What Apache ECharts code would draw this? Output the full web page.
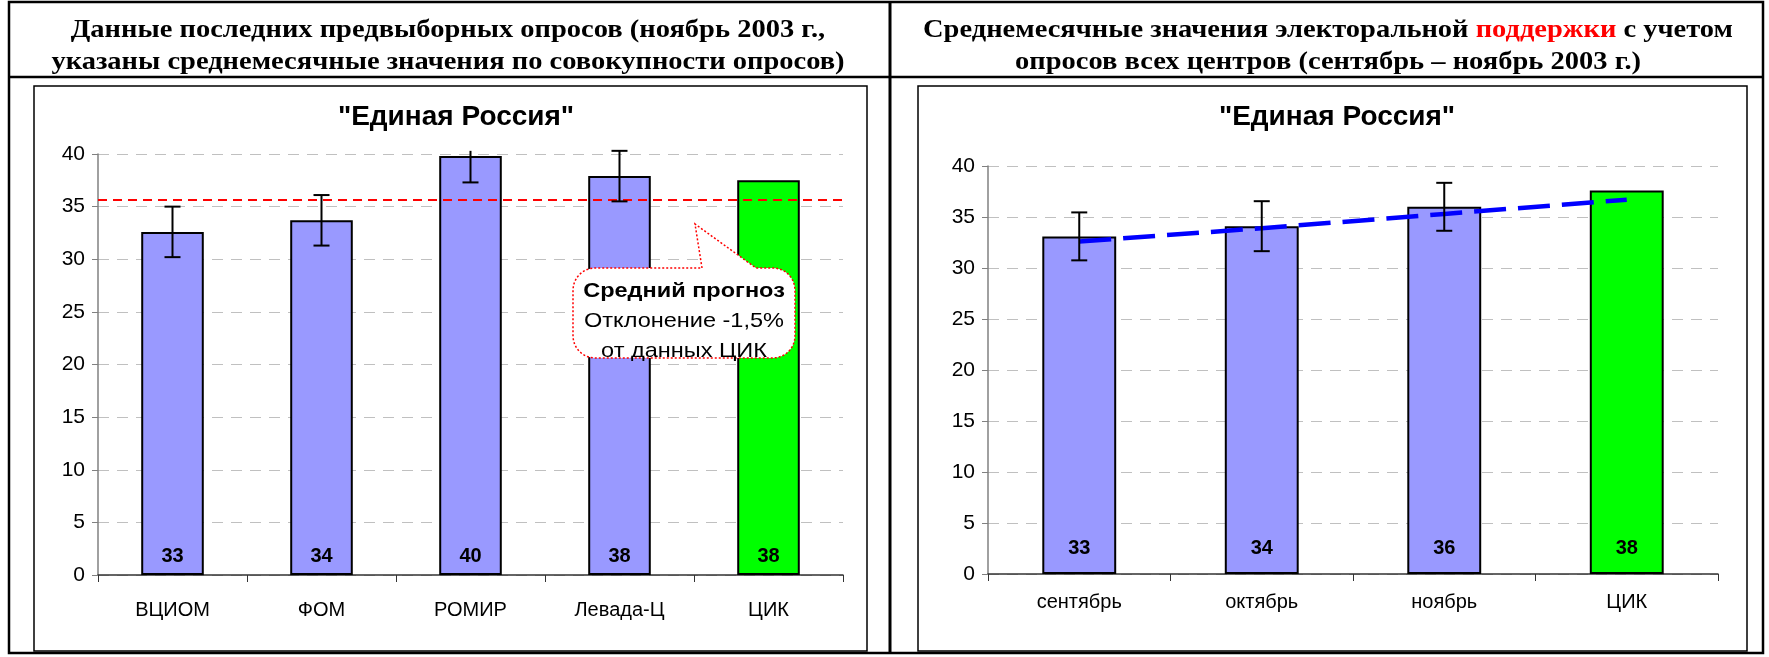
<!DOCTYPE html>
<html><head><meta charset="utf-8">
<script src="https://cdn.jsdelivr.net/npm/echarts@6/dist/echarts.min.js"></script>
<style>html,body{margin:0;padding:0;background:#fff}#c{width:1769px;height:657px}</style>
</head><body><div id="c"></div>
<script>
// ---- data ----
const leftCategories = ['ВЦИОМ', 'ФОМ', 'РОМИР', 'Левада-Ц', 'ЦИК'];
const leftValues = [32.6, 33.7, 39.8, 37.9, 37.5];
const leftErrors = [2.4, 2.4, 2.5, 2.4, null];
const leftAverage = 35.7;
const rightCategories = ['сентябрь', 'октябрь', 'ноябрь', 'ЦИК'];
const rightValues = [33.1, 34.1, 36.0, 37.6];
const rightErrors = [2.35, 2.45, 2.35, null];
const rightTrend = [32.6, 33.9, 35.3, 36.7];
const yMin = 0, yMax = 40, yStep = 5;
const chartTitle = '"Единая Россия"';
const leftHeader = ['Данные последних предвыборных опросов (ноябрь 2003 г.,', 'указаны среднемесячные значения по совокупности опросов)'];
const rightHeader = ['Среднемесячные значения электоральной {r|поддержки} с учетом', 'опросов всех центров (сентябрь – ноябрь 2003 г.)'];
const calloutLines = ['{b|Средний прогноз}', 'Отклонение -1,5%', 'от данных ЦИК'];

// ---- style ----
const SANS = '"Liberation Sans", Arial, sans-serif';
const SERIF = '"Liberation Serif", "Times New Roman", serif';
const BAR = '#9999FF', CEC = '#00FF00';

const chart = echarts.init(document.getElementById('c'));

function barData(values, cats) {
  return values.map((v, i) => ({
    value: v,
    itemStyle: { color: cats[i] === 'ЦИК' ? CEC : BAR }
  }));
}
function errorData(values, errors) {
  const out = [];
  values.forEach((v, i) => { if (errors[i] != null) out.push([i, v - errors[i], v + errors[i]]); });
  return out;
}
function errorSeries(idx, values, errors, clipMax) {
  return {
    type: 'custom', xAxisIndex: idx, yAxisIndex: idx, z: 6, clip: false,
    data: errorData(values, errors),
    renderItem: function (params, api) {
      const x = api.value(0), lo = api.value(1), hi = api.value(2);
      const hiC = Math.min(hi, clipMax);
      const pLo = api.coord([x, lo]);
      const pHi = api.coord([x, hiC]);
      const w = 8;
      const st = { stroke: '#000', lineWidth: 2 };
      const ch = [
        { type: 'line', shape: { x1: pLo[0], y1: pLo[1], x2: pHi[0], y2: pHi[1] }, style: st },
        { type: 'line', shape: { x1: pLo[0] - w, y1: pLo[1], x2: pLo[0] + w, y2: pLo[1] }, style: st }
      ];
      if (hi <= clipMax) ch.push({ type: 'line', shape: { x1: pHi[0] - w, y1: pHi[1], x2: pHi[0] + w, y2: pHi[1] }, style: st });
      return { type: 'group', children: ch };
    }
  };
}
function yAxis(idx) {
  return {
    type: 'value', gridIndex: idx, min: yMin, max: yMax, interval: yStep,
    axisLine: { show: true, lineStyle: { color: '#808080', width: 1.5 } },
    axisTick: { show: true, length: 6, lineStyle: { color: '#808080' } },
    axisLabel: { color: '#000', fontSize: 21, fontFamily: SANS, margin: 13 },
    splitLine: { show: true, lineStyle: { color: '#C0C0C0', type: [11, 8], width: 1 } }
  };
}
function xAxis(idx, cats, margin) {
  return {
    type: 'category', gridIndex: idx, data: cats,
    axisLine: { show: true, lineStyle: { color: '#333', width: 1.5 } },
    axisTick: { show: true, length: 7, lineStyle: { color: '#333' } },
    axisLabel: { color: '#000', fontSize: 20, fontFamily: SANS, margin: margin }
  };
}

// callout outline: rounded box with a pointer on its top edge
function calloutPoints(x0, y0, x1, y1, r, pb0, tip, pb1) {
  const pts = [];
  function arc(cx, cy, a0, a1) {
    const n = 8;
    for (let k = 0; k <= n; k++) {
      const a = a0 + (a1 - a0) * k / n;
      pts.push([cx + r * Math.cos(a), cy + r * Math.sin(a)]);
    }
  }
  pts.push([pb0, y0]); pts.push(tip); pts.push([pb1, y0]);
  arc(x1 - r, y0 + r, -Math.PI / 2, 0);
  arc(x1 - r, y1 - r, 0, Math.PI / 2);
  arc(x0 + r, y1 - r, Math.PI / 2, Math.PI);
  arc(x0 + r, y0 + r, Math.PI, Math.PI * 1.5);
  return pts;
}

const headerFont = { fontFamily: SERIF, fontWeight: 'bold', fontSize: 25 };
const HS = 1.14;

chart.setOption({
  animation: false,
  backgroundColor: '#fff',
  title: [
    { text: chartTitle, left: 451, top: 112, textAlign: 'center', textVerticalAlign: 'middle',
      textStyle: { fontFamily: SANS, fontWeight: 'bold', fontSize: 28, color: '#000' } },
    { text: chartTitle, left: 1332, top: 112, textAlign: 'center', textVerticalAlign: 'middle',
      textStyle: { fontFamily: SANS, fontWeight: 'bold', fontSize: 28, color: '#000' } }
  ],
  grid: [
    { left: 98, right: 1769 - 843, top: 154, bottom: 657 - 575 },
    { left: 988, right: 1769 - 1718, top: 166, bottom: 657 - 574 }
  ],
  xAxis: [xAxis(0, leftCategories, 25), xAxis(1, rightCategories, 18)],
  yAxis: [yAxis(0), yAxis(1)],
  series: [
    {
      type: 'bar', xAxisIndex: 0, yAxisIndex: 0, barWidth: '42%', z: 2,
      data: barData(leftValues, leftCategories),
      itemStyle: { borderColor: '#000', borderWidth: 2 },
      label: { show: true, position: 'insideBottom', distance: 9, color: '#000', fontFamily: SANS, fontWeight: 'bold', fontSize: 20,
        formatter: p => Math.round(p.value) },
      markLine: {
        silent: true, symbol: 'none', label: { show: false },
        lineStyle: { color: '#FF0000', type: [9, 6], width: 2 },
        data: [{ yAxis: leftAverage }]
      }
    },
    errorSeries(0, leftValues, leftErrors, 40.3),
    {
      type: 'bar', xAxisIndex: 1, yAxisIndex: 1, barWidth: '40.5%', z: 2,
      data: barData(rightValues, rightCategories),
      itemStyle: { borderColor: '#000', borderWidth: 2 },
      label: { show: true, position: 'insideBottom', distance: 16, color: '#000', fontFamily: SANS, fontWeight: 'bold', fontSize: 20,
        formatter: p => Math.round(p.value) }
    },
    {
      type: 'line', xAxisIndex: 1, yAxisIndex: 1, z: 5, symbol: 'none', data: rightTrend,
      lineStyle: { color: '#0000FF', width: 4.5, type: [32, 12] }
    },
    errorSeries(1, rightValues, rightErrors, 40.3)
  ],
  graphic: [
    // outer table
    { type: 'rect', silent: true, shape: { x: 9, y: 2, width: 1754, height: 651 }, style: { fill: 'none', stroke: '#000', lineWidth: 2.5 } },
    { type: 'line', silent: true, shape: { x1: 9, y1: 77, x2: 1763, y2: 77 }, style: { stroke: '#000', lineWidth: 2.5 } },
    { type: 'line', silent: true, shape: { x1: 890, y1: 2, x2: 890, y2: 653 }, style: { stroke: '#000', lineWidth: 3 } },
    // chart boxes
    { type: 'rect', silent: true, z: -1, shape: { x: 34, y: 86, width: 833, height: 565 }, style: { fill: 'none', stroke: '#000', lineWidth: 1.5 } },
    { type: 'rect', silent: true, z: -1, shape: { x: 918, y: 86, width: 829, height: 565 }, style: { fill: 'none', stroke: '#000', lineWidth: 1.5 } },
    // headers
    { type: 'text', x: 448, y: 31, scaleX: HS, style: Object.assign({ text: leftHeader[0], align: 'center', verticalAlign: 'middle', fill: '#000' }, headerFont) },
    { type: 'text', x: 448, y: 63, scaleX: HS, style: Object.assign({ text: leftHeader[1], align: 'center', verticalAlign: 'middle', fill: '#000' }, headerFont) },
    { type: 'text', x: 1328, y: 31, scaleX: HS, style: Object.assign({ text: rightHeader[0], align: 'center', verticalAlign: 'middle', fill: '#000',
        rich: { r: Object.assign({ fill: '#FF0000' }, headerFont) } }, headerFont) },
    { type: 'text', x: 1328, y: 63, scaleX: HS, style: Object.assign({ text: rightHeader[1], align: 'center', verticalAlign: 'middle', fill: '#000' }, headerFont) },
    // callout
    { type: 'polygon', z: 100, silent: true,
      shape: { points: calloutPoints(573, 268, 795, 358, 22, 702, [695, 224], 756) },
      style: { fill: '#fff', stroke: '#FF0000', lineWidth: 1.5, lineDash: [2, 2] } },
    { type: 'text', z: 101, silent: true, x: 684, y: 321, scaleX: 1.12,
      style: { text: calloutLines.join('\n'), align: 'center', verticalAlign: 'middle', fill: '#000',
        fontFamily: SANS, fontSize: 21, lineHeight: 30,
        rich: { b: { fontFamily: SANS, fontSize: 21, fontWeight: 'bold', fill: '#000', lineHeight: 30 } } } }
  ]
});
</script>
</body></html>
